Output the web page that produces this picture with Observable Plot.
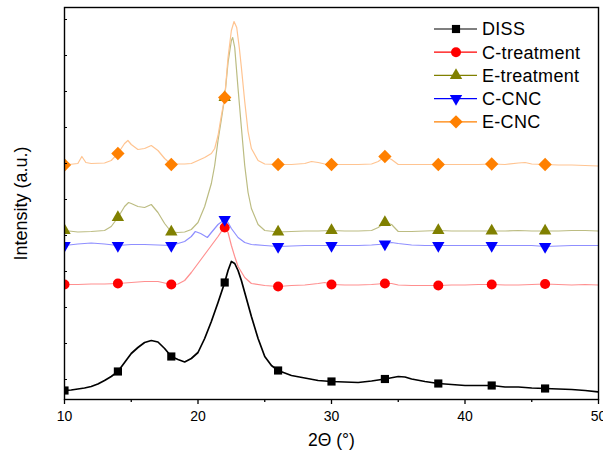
<!DOCTYPE html>
<html><head><meta charset="utf-8">
<script src="https://cdn.jsdelivr.net/npm/d3@7"></script>
<script src="https://cdn.jsdelivr.net/npm/@observablehq/plot@0.6"></script>
<style>
body{margin:0;background:#fff;}
#wrap{position:relative;width:603px;height:459px;font-family:Arial,"Liberation Sans",sans-serif;overflow:hidden;}
#wrap svg{display:block;}
#legend{position:absolute;left:0;top:0;pointer-events:none;}
</style></head><body><div id="wrap"></div>
<script>
// ---- data ----
const seriesNames = ["DISS", "C-treatment", "E-treatment", "C-CNC", "E-CNC"];
const markerTheta = [10, 14, 18, 22, 26, 30, 34, 38, 42, 46];
const xTicks = [10, 20, 30, 40, 50];
const xMinorTicks = [15, 25, 35, 45];
const yTicks = [20, 56, 92, 128, 164, 200, 236, 272, 308, 344, 380];

const dissTheta = [10,10.5,11,11.5,12,12.5,13,13.5,14,14.5,15,15.5,16,16.5,17,17.5,18,18.5,19,19.5,20,20.5,21,21.5,22,22.25,22.5,22.75,23,23.25,23.5,24,24.5,25,25.5,26,27,28,29,30,31,32,33,34,35,35.5,36,37,38,39,40,41,42,43,44,45,46,47,48,49,50];
const dissI = [9,9.5,10.5,11.5,13,15.5,19,23,28,37,46,52,57,59,57.5,51,43,40,37.5,41,47,61,78,97,117,129,138,136,129,119,107,83,61,43,34,29,24,21.5,19,18,17.5,17,18.5,20.5,23,22.5,20.5,18,16,15,14,14,14,12.5,12.5,11.5,11,10.5,10,9,7.5];

const cTreatTheta = [10,11,12,13,14,15,16,17,18,18.5,19,19.5,20,20.5,21,21.5,21.75,22,22.25,22.5,22.75,23,23.5,24,25,26,27,28,29,29.5,30,31,32,33,34,34.5,35,36,37,38,39,40,41,42,43,44,45,46,47,48,49,50];
const cTreatI = [115,115,115.5,115.5,116,117,118,118,115,115.5,119,127,136,145,154,163,168,172,167,154,143,133,122,116,114,113,114,114.5,116,117,115,114.5,114.5,115,116,116,114.5,114,114,114,114.5,114.5,115,115,114.5,114.5,115,115.5,115,114.5,115,114.5];

const eTreatTheta = [10,11,12,13,13.5,14,14.5,14.8,15,15.5,16,16.5,17,17.5,18,18.5,19,19.5,20,20.5,21,21.25,21.5,21.75,22,22.25,22.5,22.6,22.75,23,23.25,23.5,23.75,24,24.5,25,26,27,28,29,30,31,32,33,33.5,34,34.5,35,36,37,38,39,40,41,42,43,44,45,46,47,48,49,50];
const eTreatI = [169,167.5,168,169,173,182,193,197,196,193,192,195,187,176,167.5,167,167.5,170,177,193,216,234,259,280,302,337,359,362,352,311,272,234,207,191,175,169,167.5,168,168.5,168.5,169,168.5,168.5,169,172,177,175,168,168,168.5,169,168.5,168.5,168.5,168.5,168.5,169,168.5,168.5,168.5,169,169,168.5];

const cCncTheta = [10,11,12,13,14,15,16,17,18,18.5,19,19.5,19.8,20.2,20.7,21,21.5,22,22.25,22.5,23,23.5,24,25,26,27,28,29,30,31,32,33,34,34.5,35,36,37,38,39,40,41,42,43,44,45,46,47,48,49,50];
const cCncI = [154,155.5,156.5,155.5,154,155,155,154.5,154,156,158,163,168,166,162,167,175,180,177,171,162,157,155,154,153,153.5,154,154,154,154,154,154.5,155.5,157,156,154.5,154,154,154,154,154,154,154,154,154,153,153.5,154,154,154];

const eCncTheta = [10,11,11.3,11.6,12,13,13.5,14,14.5,14.75,15,15.5,16,16.5,17,17.5,18,18.5,19,19.5,20,20.5,21,21.25,21.5,21.75,22,22.25,22.5,22.7,22.9,23.1,23.25,23.5,23.75,24,24.5,25,26,27,28,28.5,29,29.5,30,31,32,33,33.5,34,34.5,35,36,37,38,39,40,41,42,43,44,44.5,45,46,47,48,49,50];
const eCncI = [234.5,236,243,237,236,236.5,239,246,256,259,255,250,251,254,249,241,235,235.5,235.5,236,239,242,246,251,264,284,302,342,369,378,372,351,332,298,268,251,239,235.5,235,235,236,238,237,235.5,235,235,235,235.5,238,243,240,235,235,235,235,235,235,235,235.5,235,236.5,237,235.5,235,234.5,234.5,234,233.5];

// ---- styles ----
const thetas = [dissTheta, cTreatTheta, eTreatTheta, cCncTheta, eCncTheta];
const intens = [dissI, cTreatI, eTreatI, cCncI, eCncI];
const lineColors = ["#000000", "#ff8f8f", "#bcbc82", "#8f8fff", "#ffc491"];
const lineWidths = [1.7, 1.2, 1.2, 1.2, 1.2];
const markColors = ["#000000", "#ff0000", "#808000", "#0000ff", "#ff8000"];
const markSymbols = ["square", "circle", "triangle", "triangle", "diamond2"];
const markR = [4.6, 5, 4.6, 4.6, 6];
const markRotate = [0, 0, 0, 180, 0];

const font = 'Arial, "Liberation Sans", sans-serif';
const marks = [];
seriesNames.forEach((name, k) => {
  const rows = thetas[k].map((t, i) => ({series: name, theta: t, I: intens[k][i]}));
  marks.push(Plot.line(rows, {x: "theta", y: "I", stroke: lineColors[k], strokeWidth: lineWidths[k], clip: true}));
  marks.push(Plot.dot(rows.filter(d => markerTheta.includes(d.theta)), {
    x: "theta", y: "I", symbol: markSymbols[k], r: markR[k], fill: markColors[k], stroke: "none", rotate: markRotate[k], clip: true
  }));
});
marks.push(Plot.frame({stroke: "#000", strokeWidth: 1.4}));
marks.push(Plot.axisX({ticks: xTicks, tickSize: 5, tickPadding: 7, fontSize: 14, label: null, strokeWidth: 1.3}));
marks.push(Plot.axisX({ticks: xMinorTicks, tickSize: 3, tickFormat: () => "", label: null, strokeWidth: 1.3}));
// y axis: no labels, short inward ticks
marks.push(Plot.axisY({ticks: [], tickSize: 0, tickFormat: () => "", label: null}));
marks.push(Plot.tickY(yTicks, {y: d => d, insetRight: 603 - 64 - 5 - 3, stroke: "#000", strokeWidth: 1}));
marks.push(Plot.text(["2\u0398 (\u00b0)"], {text: d => d, frameAnchor: "bottom", dy: 46, fontSize: 17.5, textAnchor: "middle"}));
marks.push(Plot.text(["Intensity (a.u.)"], {text: d => d, frameAnchor: "left", dx: -43, rotate: -90, fontSize: 18, textAnchor: "middle"}));

const chart = Plot.plot({
  width: 603, height: 459,
  marginLeft: 64, marginRight: 5, marginTop: 7, marginBottom: 60,
  x: {domain: [10, 50]},
  y: {domain: [0, 392]},
  style: {fontFamily: font, fontSize: "14px", color: "#000", background: "#fff", overflow: "visible"},
  marks
});
const wrap = document.getElementById("wrap");
wrap.appendChild(chart);

// ---- legend ----
const lg = d3.select(wrap).append("svg").attr("id", "legend").attr("width", 603).attr("height", 459)
  .style("font-family", font);
const symMap = {square: d3.symbolSquare, circle: d3.symbolCircle, triangle: d3.symbolTriangle, diamond2: d3.symbolDiamond2};
seriesNames.forEach((name, k) => {
  const g = lg.append("g").attr("transform", `translate(0,${29 + k * 23.2})`);
  g.append("line").attr("x1", 434).attr("x2", 477).attr("y1", 0).attr("y2", 0)
    .attr("stroke", k === 0 ? "#000" : markColors[k]).attr("stroke-width", 1.2);
  g.append("path").attr("transform", `translate(456,0) rotate(${markRotate[k]})`)
    .attr("d", d3.symbol(symMap[markSymbols[k]], Math.PI * markR[k] * markR[k])())
    .attr("fill", markColors[k]);
  g.append("text").attr("x", 482).attr("y", 0).attr("dy", "0.36em").attr("font-size", 18)
    .attr("letter-spacing", "0.3px").text(name);
});
</script>
</body></html>
